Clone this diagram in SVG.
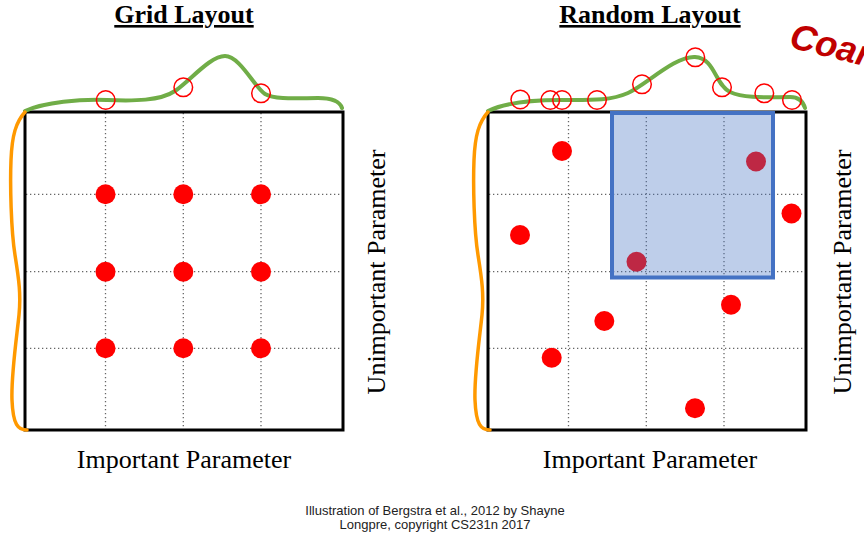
<svg xmlns="http://www.w3.org/2000/svg" width="864" height="538" viewBox="0 0 864 538">
<style>
.title{font-family:"Liberation Serif","Times New Roman",serif;font-weight:bold;font-size:26px;text-anchor:middle;fill:#000;text-decoration:underline}
.axis{font-family:"Liberation Serif","Times New Roman",serif;font-size:26px;text-anchor:middle;fill:#000}
.cap{font-family:"Liberation Sans",Arial,sans-serif;font-size:13px;text-anchor:middle;fill:#222}
.box{fill:none;stroke:#000;stroke-width:3}
.grid{stroke:#666;stroke-width:1.3;stroke-dasharray:1.3 2.7;fill:none}
.dot{fill:#ff0000}
.ring{fill:none;stroke:#ff0000;stroke-width:1.5}
.green{fill:none;stroke:#70ad47;stroke-width:4;stroke-linecap:round}
.orange{fill:none;stroke:#ff9900;stroke-width:3.5;stroke-linecap:round}
.sel{fill:#4472c4;fill-opacity:0.35;stroke:#4472c4;stroke-width:4}
</style>
<rect width="864" height="538" fill="#fff"/>

<g id="grid-layout">
  <text class="title" x="184" y="23">Grid Layout</text>
  <g id="grid-lines-left">
    <line class="grid" x1="105.5" y1="113" x2="105.5" y2="429"/>
    <line class="grid" x1="183.3" y1="113" x2="183.3" y2="429"/>
    <line class="grid" x1="261" y1="113" x2="261" y2="429"/>
    <line class="grid" x1="26" y1="194.3" x2="342" y2="194.3"/>
    <line class="grid" x1="26" y1="271.7" x2="342" y2="271.7"/>
    <line class="grid" x1="26" y1="348.3" x2="342" y2="348.3"/>
  </g>
  <rect class="box" x="25" y="112" width="318" height="318"/>
  <g id="grid-points">
    <circle class="dot" cx="105.5" cy="194.3" r="10"/>
    <circle class="dot" cx="183.3" cy="194.3" r="10"/>
    <circle class="dot" cx="261" cy="194.3" r="10"/>
    <circle class="dot" cx="105.5" cy="271.7" r="10"/>
    <circle class="dot" cx="183.3" cy="271.7" r="10"/>
    <circle class="dot" cx="261" cy="271.7" r="10"/>
    <circle class="dot" cx="105.5" cy="348.3" r="10"/>
    <circle class="dot" cx="183.3" cy="348.3" r="10"/>
    <circle class="dot" cx="261" cy="348.3" r="10"/>
  </g>
  <path class="green" d="M25,111 C45,102 80,99 107,100 S160,101 175,91 S210,56 225,56 S255,88 265,94 S300,98 318,98 C334,98 340,102 342,108"/>
  <path class="orange" d="M25,112 C16,122 12,135 11,160 S11,230 15,255 S21,295 19,315 S11,375 12,400 S18,430 27,430"/>
  <g id="grid-samples">
    <circle class="ring" cx="105.7" cy="100" r="9.3"/>
    <circle class="ring" cx="183.3" cy="87.3" r="9.3"/>
    <circle class="ring" cx="261" cy="93.3" r="9.3"/>
  </g>
  <text class="axis" x="184" y="468">Important Parameter</text>
  <text class="axis" transform="translate(385,272) rotate(-90)">Unimportant Parameter</text>
</g>

<g id="random-layout">
  <text class="title" x="650" y="23">Random Layout</text>
  <g id="grid-lines-right">
    <line class="grid" x1="568.5" y1="113" x2="568.5" y2="429"/>
    <line class="grid" x1="646.3" y1="113" x2="646.3" y2="429"/>
    <line class="grid" x1="724" y1="113" x2="724" y2="429"/>
    <line class="grid" x1="489" y1="194.3" x2="805" y2="194.3"/>
    <line class="grid" x1="489" y1="271.7" x2="805" y2="271.7"/>
    <line class="grid" x1="489" y1="348.3" x2="805" y2="348.3"/>
  </g>
  <rect class="box" x="488" y="112" width="318" height="318"/>
  <g id="random-points">
    <circle class="dot" cx="562" cy="151" r="10"/>
    <circle class="dot" cx="520" cy="235" r="10"/>
    <circle class="dot" cx="756" cy="161.5" r="10"/>
    <circle class="dot" cx="791.5" cy="213.5" r="10"/>
    <circle class="dot" cx="636.5" cy="261.7" r="10"/>
    <circle class="dot" cx="604.3" cy="321" r="10"/>
    <circle class="dot" cx="731" cy="304.7" r="10"/>
    <circle class="dot" cx="551.7" cy="357.7" r="10"/>
    <circle class="dot" cx="695" cy="408.3" r="10"/>
  </g>
  <rect id="highlight" class="sel" x="612" y="113" width="161" height="164.5"/>
  <path class="green" d="M488,111 C505,103 530,100 560,100 S610,101 628,93 S675,56 695,57 S715,85 730,92 S770,97 790,97 C798,97 803,101 805,108"/>
  <path class="orange" transform="translate(463,0)" d="M25,112 C16,122 12,135 11,160 S11,230 15,255 S21,295 19,315 S11,375 12,400 S18,430 27,430"/>
  <g id="random-samples">
    <circle class="ring" cx="520.3" cy="99.5" r="9.3"/>
    <circle class="ring" cx="550.3" cy="100" r="9.3"/>
    <circle class="ring" cx="562" cy="100" r="9.3"/>
    <circle class="ring" cx="597" cy="100" r="9.3"/>
    <circle class="ring" cx="642" cy="84.3" r="9.3"/>
    <circle class="ring" cx="695.3" cy="57.3" r="9.3"/>
    <circle class="ring" cx="722" cy="87.3" r="9.3"/>
    <circle class="ring" cx="764.3" cy="93.3" r="9.3"/>
    <circle class="ring" cx="792" cy="100" r="9.3"/>
  </g>
  <text class="axis" x="650" y="468">Important Parameter</text>
  <text class="axis" transform="translate(851,272) rotate(-90)">Unimportant Parameter</text>
</g>

<text id="coarse-label" transform="translate(788,47) rotate(14)" font-family="'Liberation Sans',Arial,sans-serif" font-weight="bold" font-style="italic" font-size="36" fill="#c00000">Coar</text>

<g id="caption">
  <text class="cap" x="435" y="515">Illustration of Bergstra et al., 2012 by Shayne</text>
  <text class="cap" x="435" y="528.5">Longpre, copyright CS231n 2017</text>
</g>
</svg>
